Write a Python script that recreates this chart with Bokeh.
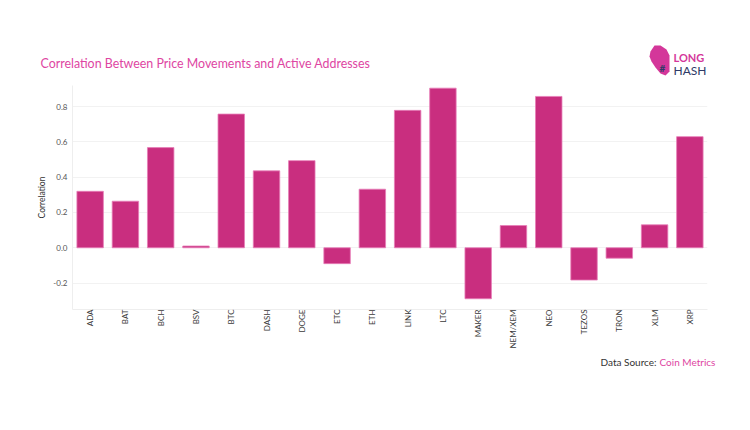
import math
from bokeh.plotting import figure
from bokeh.layouts import column
from bokeh.models import FactorRange, Range1d, FixedTicker, PrintfTickFormatter, Label, PolyAnnotation
from bokeh.embed import file_html
from bokeh.resources import INLINE

coins = ["ADA", "BAT", "BCH", "BSV", "BTC", "DASH", "DOGE", "ETC", "ETH", "LINK",
         "LTC", "MAKER", "NEM/XEM", "NEO", "TEZOS", "TRON", "XLM", "XRP"]
correlation = [0.32, 0.264, 0.568, 0.01, 0.758, 0.436, 0.494, -0.09, 0.332, 0.779,
               0.905, -0.289, 0.126, 0.858, -0.183, -0.059, 0.13, 0.63]
y_ticks = [-0.2, 0.0, 0.2, 0.4, 0.6, 0.8]

BAR = "#C92E7F"
PINK = "#DE45A2"
NAVY = "#2E3A66"
FONT = "Lato"
W = 750


def strip(h):
    f = figure(width=W, height=h, output_backend="svg", toolbar_location=None,
               x_range=Range1d(0, W), y_range=Range1d(0, h),
               min_border=0, min_border_left=0, min_border_right=0,
               min_border_top=0, min_border_bottom=0, frame_align=False)
    f.axis.visible = False
    f.grid.visible = False
    f.outline_line_color = None
    return f


# ---- header strip (title + logo)
top = strip(85)
top.add_layout(Label(x=40, y=22, x_units="screen", y_units="screen",
                     text="Correlation Between Price Movements and Active Addresses",
                     text_font=FONT, text_font_size="12.4px", text_color=PINK,
                     text_baseline="middle"))
top.add_layout(PolyAnnotation(xs=[650, 654, 660, 666, 669, 669, 665, 660, 655, 651, 649],
                              ys=[34, 40, 40, 36, 30, 14, 10, 12, 18, 24, 29],
                              xs_units="screen", ys_units="screen",
                              fill_color="#D4379A", fill_alpha=1, line_color=None))
top.add_layout(Label(x=662, y=18, x_units="screen", y_units="screen",
                     text="#", text_font=FONT, text_font_size="10px", text_font_style="bold",
                     text_color=NAVY, text_align="center", text_baseline="middle"))
top.add_layout(Label(x=673, y=28, x_units="screen", y_units="screen",
                     text="LONG", text_font=FONT, text_font_size="11px", text_font_style="bold",
                     text_color="#D4379A", text_baseline="middle"))
top.add_layout(Label(x=673, y=15, x_units="screen", y_units="screen",
                     text="HASH", text_font=FONT, text_font_size="12px",
                     text_color=NAVY, text_baseline="middle"))

# ---- main chart
p = figure(width=W, height=270, output_backend="svg", toolbar_location=None,
           x_range=FactorRange(*coins, range_padding=0), y_range=Range1d(-0.35, 0.92),
           min_border_left=72, min_border_right=43, min_border_top=0, min_border_bottom=46,
           frame_align=False)
p.outline_line_color = None
p.background_fill_color = "white"

p.vbar(x=coins, top=correlation, bottom=0, width=0.75, fill_color=BAR,
       line_color="#E77DB8", line_width=0.8)

p.yaxis.ticker = FixedTicker(ticks=y_ticks)
p.yaxis.formatter = PrintfTickFormatter(format="%.1f")
p.yaxis.axis_label = "Correlation"
p.yaxis.axis_label_text_font = FONT
p.yaxis.axis_label_text_font_size = "8.5px"
p.yaxis.axis_label_text_font_style = "normal"
p.yaxis.axis_label_text_color = "#333333"
p.yaxis.axis_label_standoff = 3
p.yaxis.major_label_text_font = FONT
p.yaxis.major_label_text_font_size = "8px"
p.yaxis.major_label_text_color = "#555555"
p.yaxis.major_label_standoff = 5
p.yaxis.major_tick_out = 0
p.yaxis.major_tick_in = 0
p.yaxis.major_tick_line_color = None
p.yaxis.minor_tick_line_color = None
p.yaxis.axis_line_color = "#EEEEEE"

p.xaxis.major_label_orientation = math.pi / 2
p.xaxis.major_label_text_font = FONT
p.xaxis.major_label_text_font_size = "8px"
p.xaxis.major_label_text_color = "#3A3A3A"
p.xaxis.major_label_standoff = 0
p.xaxis.major_tick_out = 0
p.xaxis.major_tick_in = 0
p.xaxis.major_tick_line_color = None
p.xaxis.axis_line_color = "#EEEEEE"

p.xgrid.grid_line_color = None
p.ygrid.grid_line_color = "#F2F2F2"
p.ygrid.ticker = FixedTicker(ticks=y_ticks)

# ---- footer strip (data source)
bot = strip(75)
bot.add_layout(Label(x=600, y=69, x_units="screen", y_units="screen",
                     text="Data Source:", text_font=FONT, text_font_size="10px",
                     text_color="#333333", text_baseline="middle"))
bot.add_layout(Label(x=659, y=69, x_units="screen", y_units="screen",
                     text="Coin Metrics", text_font=FONT, text_font_size="10px",
                     text_color=PINK, text_baseline="middle"))

layout = column(top, p, bot, spacing=0)
open("out.html", "w").write(file_html(layout, INLINE))
